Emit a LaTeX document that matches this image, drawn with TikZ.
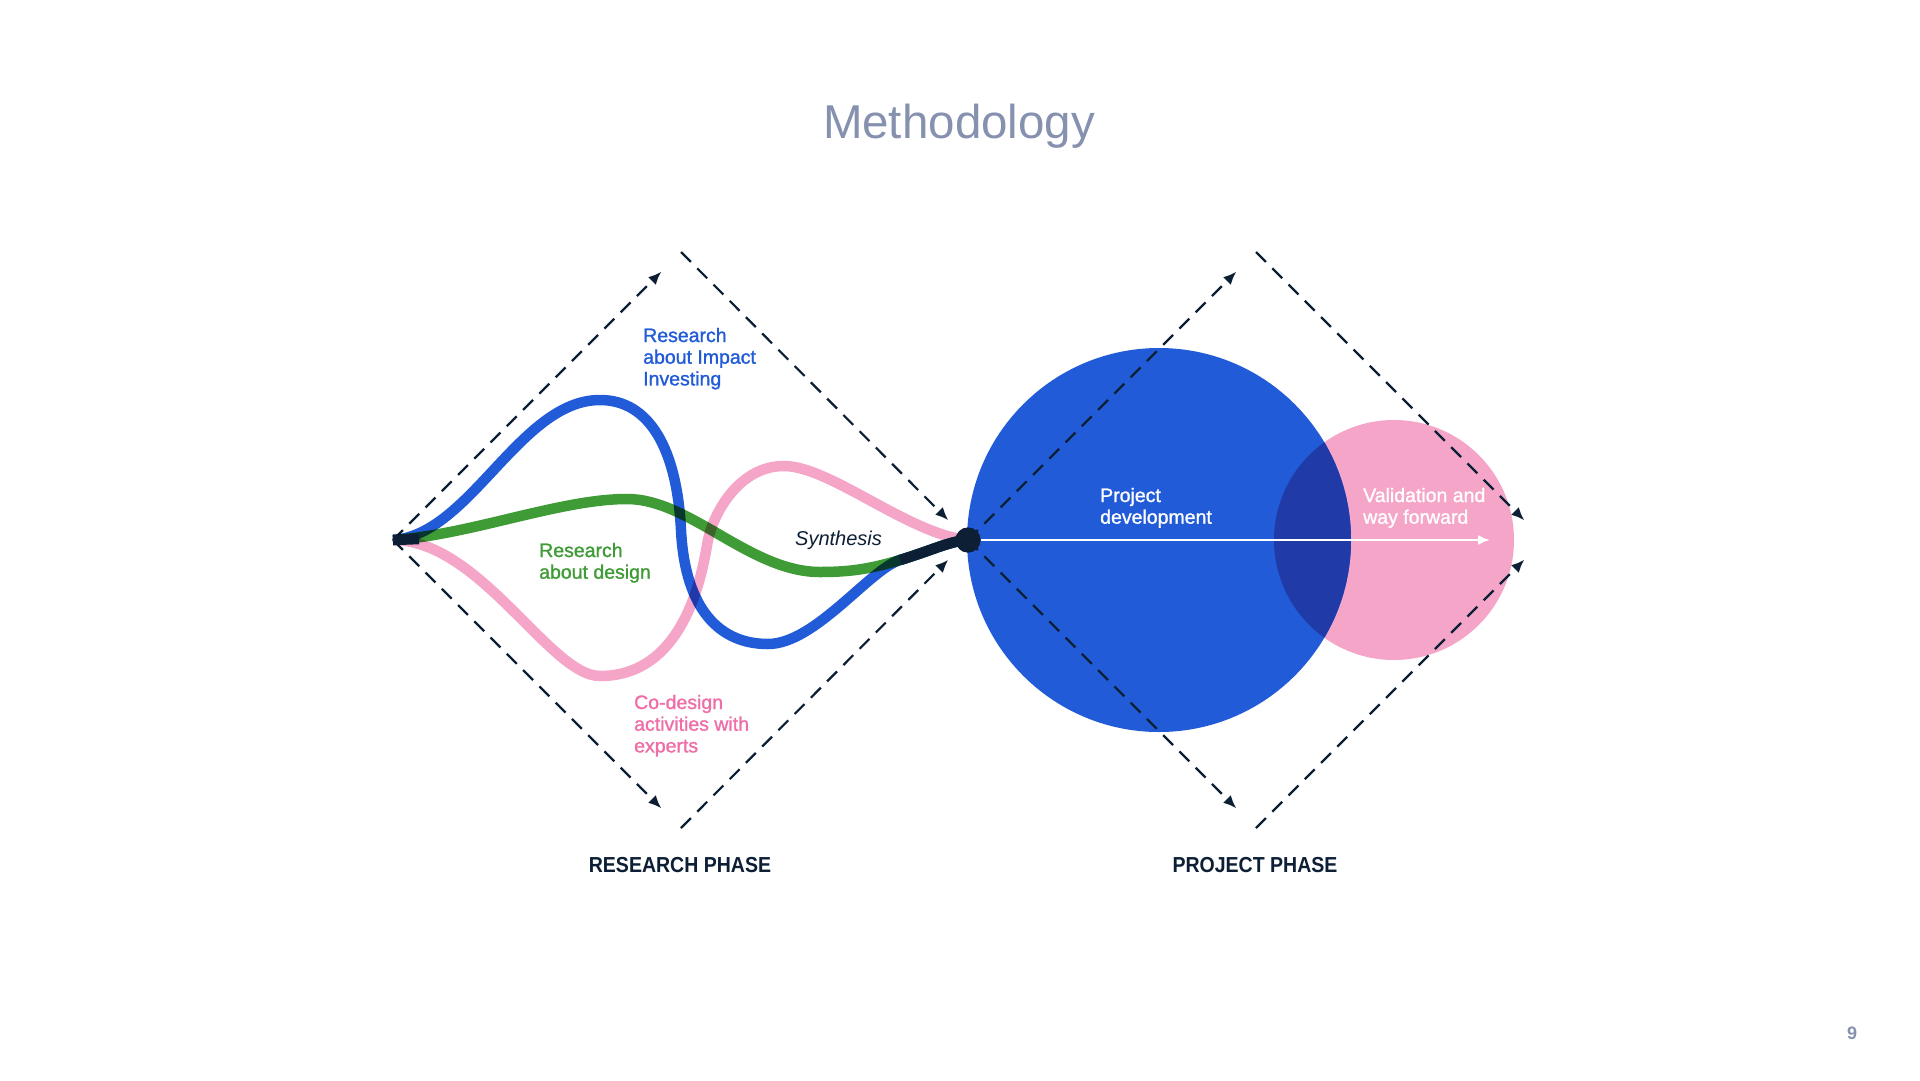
\documentclass[tikz,border=0pt]{standalone}
\usepackage{fontspec}
\setmainfont{Liberation Sans}
\newfontfamily\phasefont{Liberation Sans}[FakeStretch=0.9]
\newfontfamily\lblfont{Liberation Sans}[FakeBold=1.2]
\usetikzlibrary{arrows.meta}
\definecolor{navy}{HTML}{0D1F35}
\definecolor{blueC}{HTML}{215BD7}
\definecolor{greenC}{HTML}{3F9B36}
\definecolor{pinkC}{HTML}{F5A5C8}
\definecolor{pinkT}{HTML}{EF6EA8}
\definecolor{overlapC}{HTML}{203BA8}
\definecolor{titlegrey}{HTML}{8591AE}
\tikzset{
  dashline/.style={draw=navy, line width=2.2pt, dash pattern=on 14pt off 9pt,
    -{Latex[length=13pt,width=11pt]}, shorten >=28pt},
  curveline/.style={line width=10.5pt},
  lbl/.style={font=\lblfont\fontsize{19.5}{21.7}\selectfont, align=left, anchor=base west, inner sep=0pt},
  phase/.style={font=\phasefont\bfseries\fontsize{21.7}{24}\selectfont, text=navy, anchor=base, inner sep=0pt},
}
\begin{document}
\begin{tikzpicture}[x=1pt,y=-1pt]
\fill[white] (0,0) rectangle (1920,1080);
\useasboundingbox (0,0) rectangle (1920,1080);

% title and page number
\node[font=\fontsize{47.5}{50}\selectfont, text=titlegrey, anchor=base, inner sep=0pt] (title) at (959,138) {Methodology};
\node[font=\fontsize{18}{18}\selectfont\bfseries, text=titlegrey, anchor=base, inner sep=0pt] (pnum) at (1852,1039) {9};

% key points
\coordinate (start) at (393,540);
\coordinate (T1) at (681,252);
\coordinate (B1) at (681,828);
\coordinate (T2) at (1256,252);
\coordinate (R2) at (1544,540);
\coordinate (B2) at (1256,828);
\coordinate (arrowend) at (1490,540);
\coordinate (merge) at (900,560);

% circles
\fill[pinkC] (1394,540) circle[radius=120];
\fill[blueC] (1159,540) circle[radius=192];
\begin{scope}
  \clip (1159,540) circle[radius=192];
  \fill[overlapC] (1394,540) circle[radius=120];
\end{scope}

% synthesis dot (node)
\node[circle, fill=navy, minimum size=25pt, inner sep=0pt] (synth) at (968,540) {};

% dashed diamonds
\draw[dashline] (start) -- (T1);
\draw[dashline] (T1) -- (synth.center);
\draw[dashline] (start) -- (B1);
\draw[dashline] (B1) -- (synth.center);
\draw[dashline] (synth.center) -- (T2);
\draw[dashline] (T2) -- (R2);
\draw[dashline] (synth.center) -- (B2);
\draw[dashline] (B2) -- (R2);

% curves
\begin{scope}[blend mode=multiply]
\draw[curveline, blueC] (start) .. controls (470,535) and (520,400) .. (600,400)
  .. controls (650,400) and (677,450) .. (681,530)
  .. controls (685,610) and (720,644) .. (768,644)
  .. controls (815,644) and (870,569) .. (merge)
  .. controls (930,551) and (950,541) .. (synth.center);
\draw[curveline, greenC] (start) .. controls (470,535) and (560,499) .. (627,499)
  .. controls (690,499) and (750,572) .. (820,572)
  .. controls (850,572) and (870,569) .. (merge)
  .. controls (930,551) and (950,541) .. (synth.center);
\draw[curveline, pinkC] (start) .. controls (480,540) and (550,676) .. (600,676)
  .. controls (690,676) and (704,560) .. (708,540)
  .. controls (713,515) and (738,466) .. (784,466)
  .. controls (830,466) and (910,535) .. (synth.center);
\end{scope}
% dark merged strand into the synthesis point
\draw[curveline, navy] (merge) .. controls (930,551) and (950,541) .. (synth.center);
\draw[line width=10.5pt, navy] (start) -- ++(26,-1);

% redraw dot on top
\fill[navy] (synth) circle[radius=12.5];

% white arrow
\draw[white, line width=2pt, -{Latex[length=12pt,width=10pt]}] (synth.east) -- (arrowend);

% labels (anchored at the baseline of the last line)
\node[lbl, text=blueC] (impact) at (643,385.4) {Research\\about Impact\\Investing};
\node[lbl, text=greenC] (design) at (539,578.7) {Research\\about design};
\node[lbl, text=pinkT] (codesign) at (634,752.4) {Co-design\\activities with\\experts};
\node[lbl, text=navy, font=\fontsize{20}{22}\selectfont\itshape] (synthlbl) at (795,545) {Synthesis};
\node[lbl, text=white] (projdev) at (1100,523.7) {Project\\development};
\node[lbl, text=white] (valid) at (1363,523.7) {Validation and\\way forward};

\node[phase] (rphase) at (680,872) {RESEARCH PHASE};
\node[phase] (pphase) at (1255,872) {PROJECT PHASE};
\end{tikzpicture}
\end{document}
